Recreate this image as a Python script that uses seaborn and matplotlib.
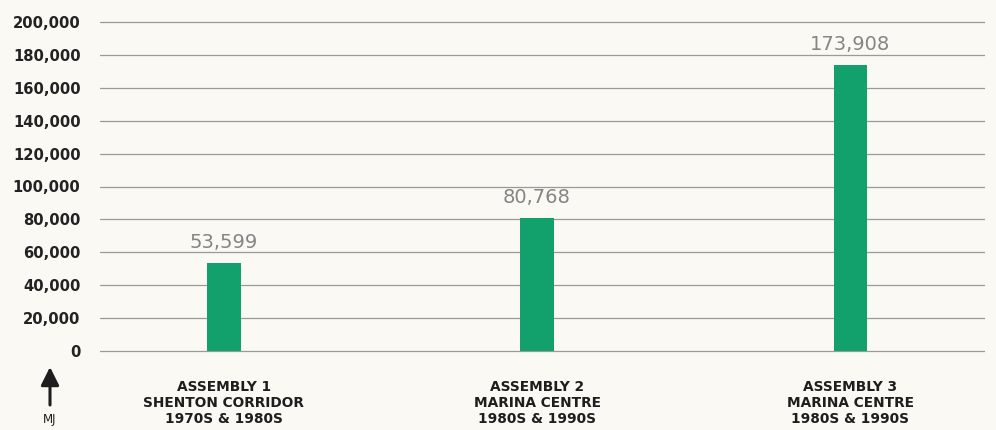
import matplotlib
matplotlib.use("Agg")
import matplotlib.pyplot as plt
import seaborn as sns
import pandas as pd

categories = ["ASSEMBLY 1\nSHENTON CORRIDOR\n1970S & 1980S",
              "ASSEMBLY 2\nMARINA CENTRE\n1980S & 1990S",
              "ASSEMBLY 3\nMARINA CENTRE\n1980S & 1990S"]
values = [53599, 80768, 173908]
value_labels = ["53,599", "80,768", "173,908"]
yticks = [0, 20000, 40000, 60000, 80000, 100000, 120000, 140000, 160000, 180000, 200000]

sns.set_theme(style="white")
plt.rcParams['font.family'] = ['DejaVu Sans']

bg = "#faf9f4"
green = "#12a06d"
W, H = 996, 430
fig = plt.figure(figsize=(W / 100, H / 100), dpi=100, facecolor=bg)

# axes: x from 100 to 985 px; y=0 at 351 px, 200,000 at 22 px
ymin, ymax = -3000, 203000
px_per = (351 - 22) / 200000
bottom_px = 351 + 3000 * px_per
top_px = 22 - 3000 * px_per
ax = fig.add_axes([100 / W, 1 - bottom_px / H, 885 / W, (bottom_px - top_px) / H])
ax.set_facecolor(bg)

df = pd.DataFrame({"category": categories, "value": values})
sns.barplot(data=df, x="category", y="value", color=green, width=0.107,
            saturation=1, linewidth=0, ax=ax, zorder=3)

ax.set_ylim(ymin, ymax)
ax.set_xlim(-0.395, 2.43)
ax.set_yticks(yticks)
ax.set_yticklabels([f"{v:,}" for v in yticks], fontsize=10.6, fontweight="bold",
                   color="#222222")
ax.tick_params(axis="y", length=0, pad=14)
ax.tick_params(axis="x", length=0, pad=17)
for lab in ax.get_xticklabels():
    lab.set_fontsize(9.9)
    lab.set_fontweight("bold")
    lab.set_color("#1e1e1e")
    lab.set_linespacing(1.2)
    lab.set_multialignment("center")
for y in yticks:
    ax.axhline(y, color="#9a9a9a", lw=0.9, zorder=1)
for s in ax.spines.values():
    s.set_visible(False)
ax.set_xlabel("")
ax.set_ylabel("")

for i, (v, t) in enumerate(zip(values, value_labels)):
    ax.annotate(t, (i, v), xytext=(0, 8), textcoords="offset points",
                ha="center", va="bottom", fontsize=14, fontweight="normal",
                color="#858585")

# MJ arrow
fig.patches.append(matplotlib.patches.FancyArrowPatch(
    (50 / W, 1 - 405 / H), (50 / W, 1 - 367 / H), transform=fig.transFigure,
    arrowstyle="-|>,head_length=11,head_width=5.5", color="#1e1e1e", lw=2.2,
    mutation_scale=1, shrinkA=0, shrinkB=0))
fig.text(50 / W, 1 - 419 / H, "MJ", ha="center", va="center", fontsize=8.5,
         color="#1e1e1e")

fig.savefig("out.png", dpi=100, facecolor=bg)
